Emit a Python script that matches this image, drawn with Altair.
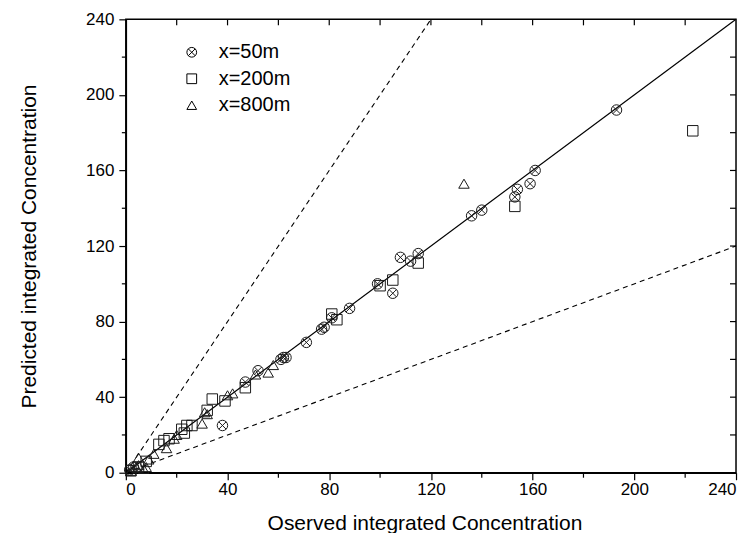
import altair as alt
import pandas as pd

# ---- data ----
obs_50 = [193, 161, 159, 154, 153, 140, 136, 115, 112, 108, 105, 99, 88, 81, 78, 77, 71, 63, 62, 61, 52, 47, 38, 3, 1.5]
pred_50 = [192, 160, 153, 150, 146, 139, 136, 116, 112, 114, 95, 100, 87, 82, 77, 76, 69, 61, 61, 60, 54, 48, 25, 3, 1.5]

obs_200 = [223, 153, 115, 105, 100, 83, 81, 47, 39, 34, 32, 26, 24, 23, 22, 17, 15, 13, 8, 5, 2]
pred_200 = [181, 141, 111, 102, 99, 81, 84, 45, 38, 39, 33, 25, 25, 21, 23, 18, 17, 15, 6, 3, 1]

obs_800 = [133, 58, 56, 51, 42, 40, 32, 31, 30, 20, 19, 16, 11, 9, 5, 4, 2, 7, 8, 5]
pred_800 = [153, 57, 53, 52, 42, 41, 31, 32, 26, 20, 18, 13, 10, 7, 4, 3, 1, 2, 3, 8]

series_names = ["x=50m", "x=200m", "x=800m"]

# reference lines: 1:1, 2:1, 1:2
line_names = ["one", "one", "two", "two", "half", "half"]
line_x = [0, 240, 0, 120, 0, 240]
line_y = [0, 240, 0, 240, 0, 120]

major_ticks = [0, 40, 80, 120, 160, 200, 240]
minor_ticks = [20, 60, 100, 140, 180, 220]
mirror_ticks = [20, 40, 60, 80, 100, 120, 140, 160, 180, 200, 220]

# ---- tables ----
df = pd.DataFrame({
    "obs": obs_50 + obs_200 + obs_800,
    "pred": pred_50 + pred_200 + pred_800,
    "series": [series_names[0]] * len(obs_50) + [series_names[1]] * len(obs_200) + [series_names[2]] * len(obs_800),
})
lines = pd.DataFrame({"line": line_names, "x": line_x, "y": line_y})
minor_df = pd.DataFrame({"v": minor_ticks})
mirror_df = pd.DataFrame({"v": mirror_ticks})

W, H = 611, 454
FONT = "Liberation Sans"

xs = alt.Scale(domain=[0, 240], nice=False, zero=False)
ys = alt.Scale(domain=[0, 240], nice=False, zero=False)

x_axis = alt.Axis(values=major_ticks, title="Oserved integrated Concentration",
                  tickSize=7, labelPadding=2, titleX=299, titleY=51,
                  titleBaseline="middle", titleAlign="center")
y_axis = alt.Axis(values=major_ticks, title="Predicted integrated Concentration",
                  tickSize=7, labelPadding=5, titleX=-96, titleY=H / 2,
                  titleBaseline="middle", titleAlign="center", titleAngle=-90)


def X(field):
    return alt.X(field, type="quantitative", scale=xs, axis=x_axis)


def Y(field):
    return alt.Y(field, type="quantitative", scale=ys, axis=y_axis)


circle_x = ("M 1 0 A 1 1 0 1 1 -1 0 A 1 1 0 1 1 1 0 "
            "M -0.7071 -0.7071 L 0.7071 0.7071 M -0.7071 0.7071 L 0.7071 -0.7071")

solid = alt.Chart(lines[lines.line == "one"]).mark_line(color="black", strokeWidth=1.2).encode(
    x=X("x"), y=Y("y"))
dashed = alt.Chart(lines[lines.line != "one"]).mark_line(
    color="black", strokeWidth=1.1, strokeDash=[5, 4]).encode(
    x=X("x"), y=Y("y"), detail="line:N")

points = alt.Chart(df).mark_point(filled=False, size=110, strokeWidth=1, color="#1a1a1a", opacity=1).encode(
    x=X("obs"), y=Y("pred"),
    shape=alt.Shape("series:N",
                    scale=alt.Scale(domain=series_names, range=[circle_x, "square", "triangle-up"]),
                    legend=alt.Legend(title=None, orient="none", legendX=56, legendY=23,
                                      labelFont=FONT, labelFontSize=20, labelColor="black",
                                      symbolSize=95, symbolStrokeWidth=1, symbolStrokeColor="black",
                                      rowPadding=6.5, labelOffset=17, padding=0)),
)

minor_left = alt.Chart(minor_df).mark_rule(color="black", strokeWidth=1.2).encode(
    y=Y("v"), x=alt.value(-4), x2=alt.value(0))
minor_bottom = alt.Chart(minor_df).mark_rule(color="black", strokeWidth=1.2).encode(
    x=X("v"), y=alt.value(H), y2=alt.value(H + 5))
top_ticks = alt.Chart(mirror_df).mark_rule(color="black", strokeWidth=1.2).encode(
    x=X("v"), y=alt.value(0), y2=alt.value(6))
right_ticks = alt.Chart(mirror_df).mark_rule(color="black", strokeWidth=1.2).encode(
    y=Y("v"), x=alt.value(W - 6), x2=alt.value(W))

chart = alt.layer(dashed, solid, points, minor_left, minor_bottom, top_ticks, right_ticks).properties(
    width=W, height=H,
    autosize=alt.AutoSizeParams(type="none"),
    padding={"left": 118, "top": 11, "right": 10, "bottom": 60},
    background="white",
).configure_view(stroke="black", strokeWidth=1.5).configure_axis(
    grid=False, domainColor="black", domainWidth=1.5, tickColor="black", tickWidth=1.2,
    labelFont=FONT, labelFontSize=17, labelColor="black",
    titleFont=FONT, titleFontSize=21, titleFontWeight="normal", titleColor="black",
)

chart.save("out.html", embed_options={"renderer": "svg", "actions": False})
